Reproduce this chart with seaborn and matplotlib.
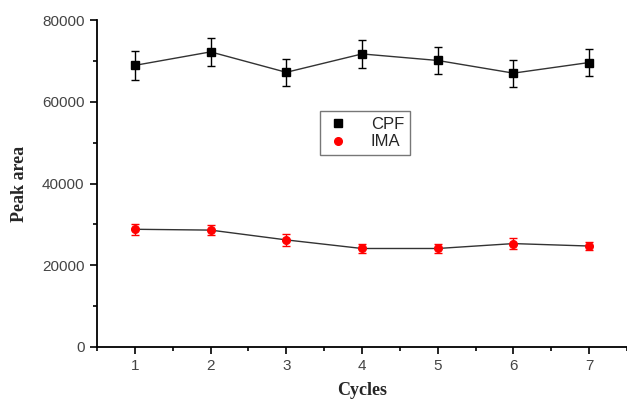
import matplotlib
matplotlib.use("Agg")
import matplotlib.pyplot as plt
from matplotlib.ticker import MultipleLocator
from matplotlib.lines import Line2D
import pandas as pd
import seaborn as sns

cycles = [1, 2, 3, 4, 5, 6, 7]
cpf_area = [68900, 72200, 67200, 71700, 70100, 67000, 69600]
cpf_err = [3500, 3500, 3300, 3500, 3400, 3300, 3400]
ima_area = [28800, 28600, 26200, 24100, 24100, 25300, 24700]
ima_err = [1300, 1200, 1400, 1200, 1200, 1300, 1000]

df = pd.DataFrame({
    "Cycles": cycles * 2,
    "Peak area": cpf_area + ima_area,
    "Analyte": ["CPF"] * 7 + ["IMA"] * 7,
})

sns.set_style("ticks")
fig = plt.figure(figsize=(6.27, 4.0), dpi=100)
ax = fig.add_axes([0.1547, 0.1325, 0.8453, 0.8175])

# connecting lines
sns.lineplot(data=df, x="Cycles", y="Peak area", hue="Analyte",
             palette={"CPF": "#333333", "IMA": "#333333"},
             linewidth=1.0, legend=False, ax=ax)

# markers with standard-deviation bars
ax.errorbar(cycles, cpf_area, yerr=cpf_err, fmt="s", color="black", ms=5.5,
            ecolor="black", elinewidth=1.0, capsize=3, capthick=1.0, zorder=3)
ax.errorbar(cycles, ima_area, yerr=ima_err, fmt="o", color="red", ms=5.5,
            ecolor="red", elinewidth=1.0, capsize=3, capthick=1.0, zorder=3)

ax.set_xlim(0.5, 7.5)
ax.set_ylim(0, 80000)
ax.xaxis.set_major_locator(MultipleLocator(1))
ax.xaxis.set_minor_locator(MultipleLocator(0.5))
ax.yaxis.set_major_locator(MultipleLocator(20000))
ax.yaxis.set_minor_locator(MultipleLocator(10000))
ax.tick_params(which="major", direction="out", length=5, width=1.2, color="black",
               labelsize=11, labelcolor="#444444", pad=4)
ax.tick_params(which="minor", direction="out", length=3, width=1.2, color="black")
for lab in ax.get_xticklabels() + ax.get_yticklabels():
    lab.set_family("Liberation Sans")
for s in ["top", "right"]:
    ax.spines[s].set_visible(False)
for s in ["left", "bottom"]:
    ax.spines[s].set_linewidth(1.3)
    ax.spines[s].set_color("black")

ax.set_xlabel("Cycles", family="Liberation Serif", fontweight="bold", fontsize=13, labelpad=6)
ax.set_ylabel("Peak area", family="Liberation Serif", fontweight="bold", fontsize=13, labelpad=10)

handles = [
    Line2D([], [], marker="s", color="black", ls="none", ms=5.5),
    Line2D([], [], marker="o", color="red", ls="none", ms=5.5),
]
leg = fig.legend(handles, ["CPF", "IMA"], loc="upper left",
                 bbox_to_anchor=(320 / 627, 1 - 111 / 400), borderaxespad=0,
                 frameon=True, fancybox=False, edgecolor="#555555",
                 prop={"family": "Liberation Sans", "size": 12},
                 handletextpad=1.2, borderpad=0.35, labelspacing=0.15,
                 handlelength=1.5)
leg.get_frame().set_linewidth(1.0)

fig.savefig("out.png", dpi=100)
